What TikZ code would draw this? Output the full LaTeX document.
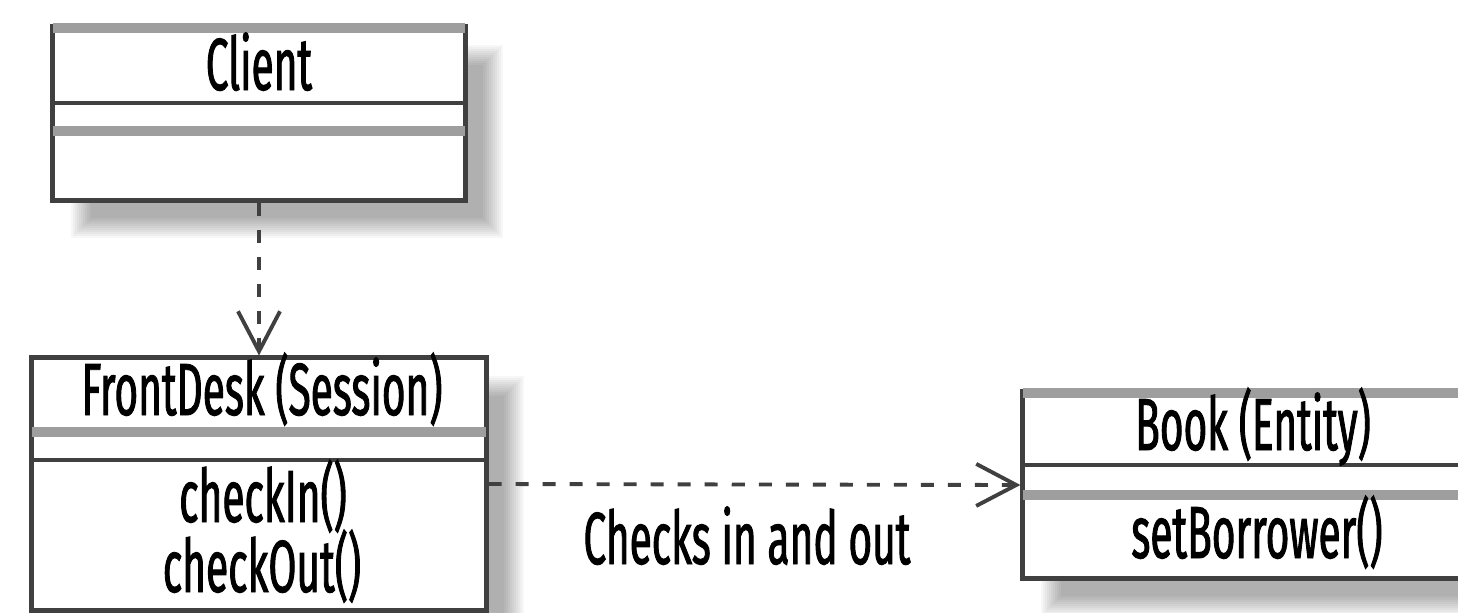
\documentclass[tikz,border=0pt]{standalone}
\usepackage{fontspec}
\newfontfamily\umlfont[FakeStretch=0.55, FakeBold=1.2]{Fira Sans}
\usetikzlibrary{arrows.meta}

\tikzset{
  classbox/.style={draw=black!75, line width=1.4pt, fill=white, inner sep=0pt},
  shadowlayer/.style={fill=black, fill opacity=0.033},
  darkline/.style={draw=black!75, line width=1.4pt},
  softline/.style={draw=black!38, line width=2.6pt},
  umltext/.style={font=\umlfont\fontsize{21}{25}\selectfont, inner sep=0pt, anchor=base},
  dep/.style={draw=black!75, line width=1.1pt, dash pattern=on 0.13cm off 0.14cm,
    -{Straight Barb[length=0.4cm,width=0.42cm,line width=1.1pt]}}
}

\begin{document}
\begin{tikzpicture}[x=0.01cm, y=-0.01cm]

    % Фон и границы рисунка
    \fill[white] (0,0) rectangle (1458,612);
    \useasboundingbox (0,0) rectangle (1458,612);

    % Размытые тени под классами
    \foreach \xa/\ya/\xb/\yb in {53/27/465/200, 32/358/486/610, 1023/392/1487/578} {
        \foreach \b in {0,2,...,20} {
            \fill[shadowlayer] (\xa+18+\b,\ya+18+\b) rectangle (\xb+38-\b,\yb+38-\b);
        }
    }

    % Классы
    \node[classbox, minimum width=4.12cm, minimum height=1.73cm] (client) at (259,113.5) {};
    \node[classbox, minimum width=4.54cm, minimum height=2.52cm] (front) at (259,484) {};
    \node[classbox, minimum width=4.64cm, minimum height=1.86cm] (book) at (1255,485) {};

    % Разделители секций
    \draw[softline] (53,28) -- (465,28);
    \draw[darkline] (53,103) -- (465,103);
    \draw[softline] (53,131) -- (465,131);

    \draw[softline] (32,432) -- (486,432);
    \draw[darkline] (32,460) -- (486,460);

    \draw[softline] (1023,393) -- (1487,393);
    \draw[darkline] (1023,465) -- (1487,465);
    \draw[softline] (1023,495) -- (1487,495);

    % Имена и операции
    \node[umltext] (client-name) at (259,90) {Client};
    \node[umltext] (front-name) at (262,415) {FrontDesk (Session)};
    \node[umltext] (front-in) at (263,522) {checkIn()};
    \node[umltext] (front-out) at (262,592) {checkOut()};
    \node[umltext] (book-name) at (1253,450) {Book (Entity)};
    \node[umltext] (book-op) at (1257,558) {setBorrower()};

    % Зависимости
    \draw[dep] (client.south) -- (front.north);
    \draw[dep] (front.east) -- (book.west);
    \node[umltext] (dep-label) at (747,564) {Checks in and out};
\end{tikzpicture}
\end{document}
